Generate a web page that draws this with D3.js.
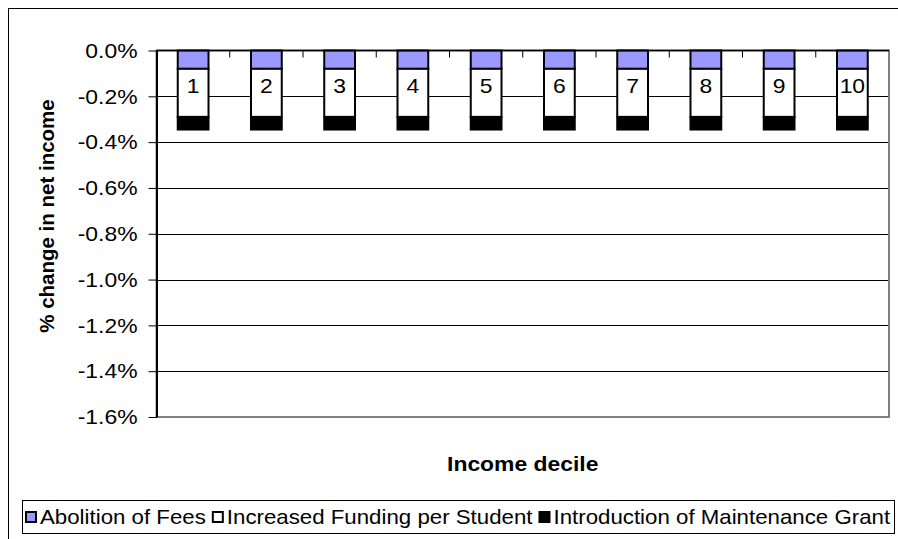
<!DOCTYPE html>
<html><head><meta charset="utf-8">
<script src="https://cdn.jsdelivr.net/npm/d3@7"></script>
<style>body{margin:0;background:#fff}svg{display:block}text{font-family:Arial,"Liberation Sans",sans-serif}</style>
</head><body><svg id="c" width="898" height="539"></svg>
<script>
const categories = ["1","2","3","4","5","6","7","8","9","10"];
const seriesNames = ["Abolition of Fees","Increased Funding per Student","Introduction of Maintenance Grant"];
const abolitionOfFees = [-0.08,-0.08,-0.08,-0.08,-0.08,-0.08,-0.08,-0.08,-0.08,-0.08];
const increasedFunding = [-0.21,-0.21,-0.21,-0.21,-0.21,-0.21,-0.21,-0.21,-0.21,-0.21];
const maintenanceGrant = [-0.055,-0.055,-0.055,-0.055,-0.055,-0.055,-0.055,-0.055,-0.055,-0.055];
const yTicks = [0,-0.2,-0.4,-0.6,-0.8,-1.0,-1.2,-1.4,-1.6];
const colors = ["#9999ff","#ffffff","#000000"];

const FS = 21;
const stretch = (sel, k) => sel.each(function(){
  const l = this.getComputedTextLength();
  this.__w = l*k;
  d3.select(this).attr("textLength", l*k).attr("lengthAdjust","spacingAndGlyphs");
});
const fmt = d3.formatLocale({decimal:".",thousands:",",grouping:[3],currency:["",""],minus:"-"}).format(".1f");

const svg = d3.select("#c");
const L=156.5, R=889, T=50.5, B=417;
svg.append("rect").attr("x",8.5).attr("y",8.5).attr("width",900).attr("height",540).attr("fill","#fff").attr("stroke","#000").attr("stroke-width",1);

const x = d3.scaleBand().domain(categories).range([L,R]).paddingInner(0.58).paddingOuter(0.29);
const xb = d3.scaleBand().domain(categories).range([L,R]);
const y = d3.scaleLinear().domain([0,-1.6]).range([T,B]);

svg.append("g").selectAll("line").data(yTicks.slice(1,-1)).join("line")
  .attr("x1",L).attr("x2",R).attr("y1",d=>Math.round(y(d))+0.5).attr("y2",d=>Math.round(y(d))+0.5)
  .attr("stroke","#000").attr("stroke-width",1);
svg.append("rect").attr("x",L).attr("y",T).attr("width",R-L).attr("height",B-T)
  .attr("fill","none").attr("stroke","#808080").attr("stroke-width",2);

const data = categories.map((c,i)=>({c, v:[abolitionOfFees[i],increasedFunding[i],maintenanceGrant[i]]}));
const g = svg.append("g");
data.forEach(d=>{
  let acc=0;
  d.v.forEach((v,k)=>{
    const y0=acc, y1=acc+v; acc=y1;
    g.append("rect").attr("x",x(d.c)).attr("width",x.bandwidth())
      .attr("y",y(y0)).attr("height",y(y1)-y(y0))
      .attr("fill",colors[k]).attr("stroke","#000").attr("stroke-width",2);
  });
});

const ya = svg.append("g").attr("transform",`translate(${L},0)`)
  .call(d3.axisLeft(y).tickValues(yTicks).tickSize(8).tickSizeOuter(0).tickPadding(11).tickFormat(d=>fmt(d)+"%"));
ya.attr("font-size",FS).attr("font-family","Arial");
ya.select(".domain").attr("stroke","#000").attr("stroke-width",2);
ya.selectAll(".tick line").attr("stroke","#000");
ya.selectAll("text").attr("fill","#000").call(stretch, 1.09);

svg.append("line").attr("x1",L).attr("x2",R).attr("y1",y(0)).attr("y2",y(0)).attr("stroke","#000").attr("stroke-width",1.5);
svg.append("g").selectAll("line").data(categories.slice(1)).join("line")
  .attr("x1",d=>xb(d)).attr("x2",d=>xb(d)).attr("y1",y(0)).attr("y2",y(0)+7).attr("stroke","#000");
svg.append("g").selectAll("text").data(data).join("text")
  .attr("x",d=>x(d.c)+x.bandwidth()/2).attr("y",d=>y(d.v[0])+24)
  .attr("text-anchor","middle").attr("font-size",FS).text(d=>d.c).call(stretch, 1.09);

svg.append("text").attr("x",(L+R)/2).attr("y",471).attr("text-anchor","middle")
  .attr("font-size",FS).attr("font-weight","bold").text("Income decile").call(stretch, 1.09);
svg.append("text").attr("transform",`translate(54,216) rotate(-90)`).attr("text-anchor","middle")
  .attr("font-size",20.5).attr("font-weight","bold").text("% change in net income");

svg.append("rect").attr("x",22.5).attr("y",500.5).attr("width",872).attr("height",33).attr("fill","#fff").attr("stroke","#000");
const lg = svg.append("g");
let lx = 25;
seriesNames.forEach((n,k)=>{
  lg.append("rect").attr("x",lx+1).attr("y",512).attr("width",10).attr("height",10)
    .attr("fill",colors[k]).attr("stroke","#000").attr("stroke-width",2);
  const t = lg.append("text").attr("x",lx+15).attr("y",524).attr("font-size",FS).text(n).call(stretch, 1.06);
  lx += 15 + t.node().__w + 6;
});
</script></body></html>
